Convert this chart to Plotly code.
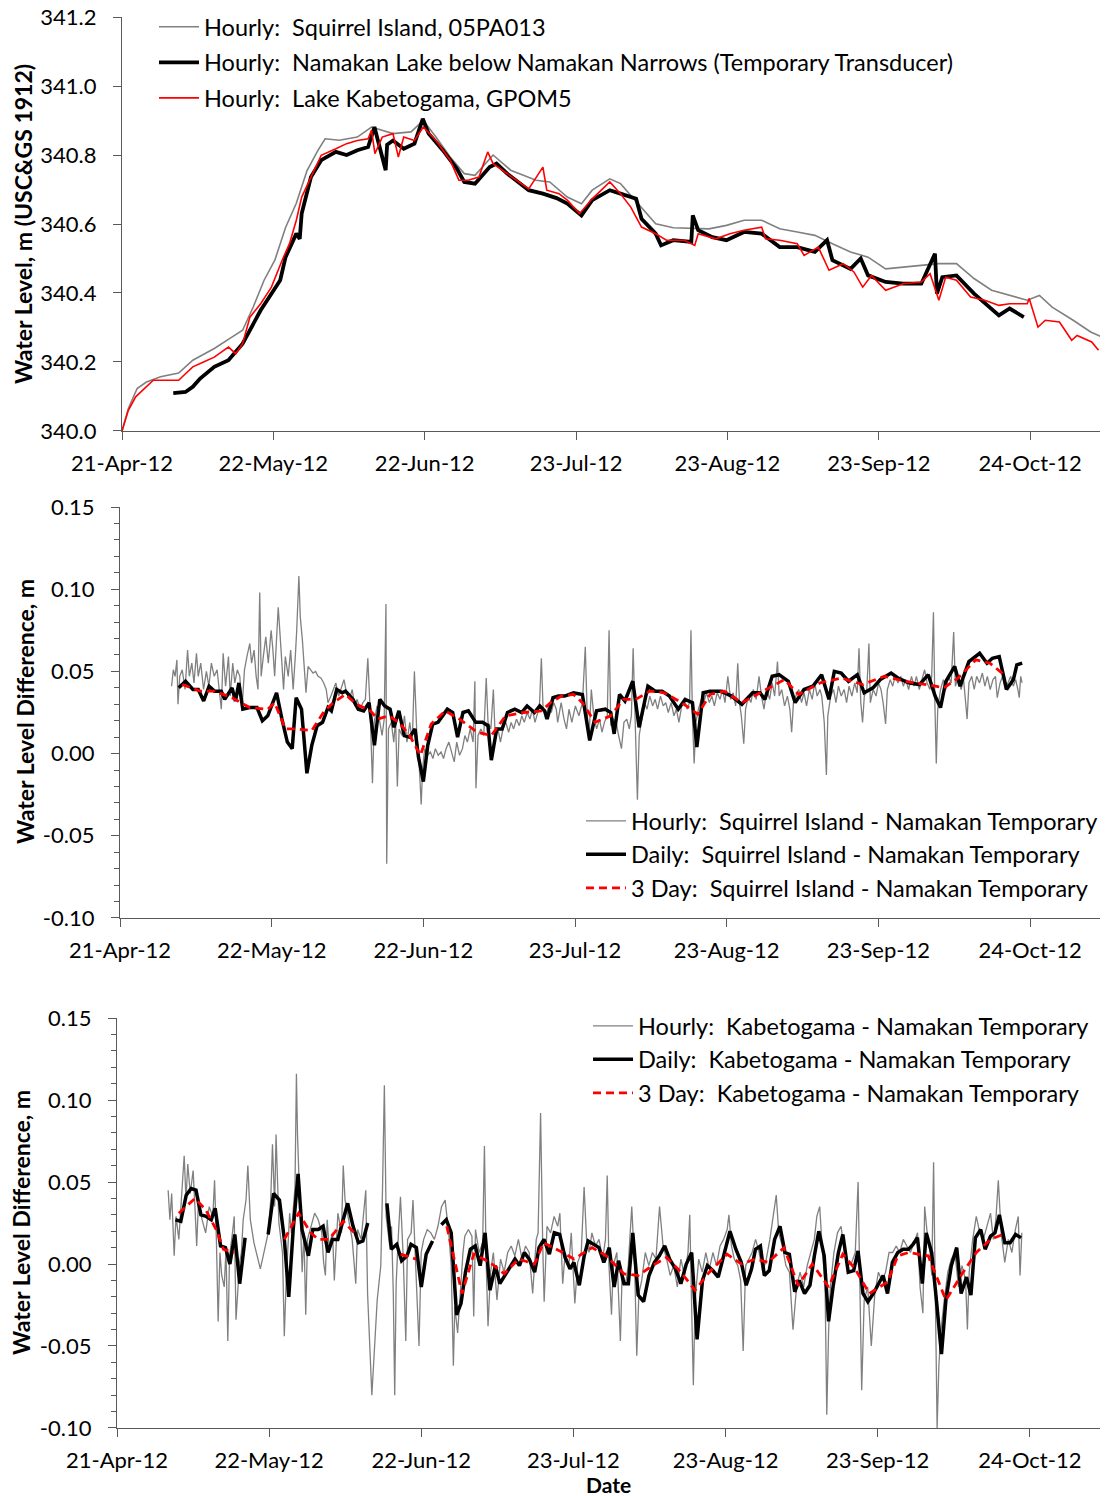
import pandas as pd
import plotly.graph_objects as go

# ---------------- data (day offsets from 21-Apr-2012) ----------------
START = pd.Timestamp("2012-04-21")

tick_dates = ["2012-04-21", "2012-05-22", "2012-06-22", "2012-07-23",
              "2012-08-23", "2012-09-23", "2012-10-24"]
tick_text = ["21-Apr-12", "22-May-12", "22-Jun-12", "23-Jul-12",
             "23-Aug-12", "23-Sep-12", "24-Oct-12"]
level_ticks = [340.0, 340.2, 340.4, 340.6, 340.8, 341.0, 341.2]
level_tick_text = ["340.0", "340.2", "340.4", "340.6", "340.8", "341.0", "341.2"]
diff_ticks = [-0.10, -0.05, 0.00, 0.05, 0.10, 0.15]
diff_tick_text = ["-0.10", "-0.05", "0.00", "0.05", "0.10", "0.15"]

# Panel 1 : water levels (m)
sq_day = [0, 1.3, 3.1, 5, 7.9, 11.6, 14.5, 18.9, 22.5, 24.7,
          26.9, 29.1, 31.3, 33.5, 35.7, 37.9, 40.1, 41.6, 44.5, 48.2,
          51.1, 55.5, 59.2, 61.7, 64.3, 67.2, 70.1, 72.3, 76, 79.6,
          84.8, 87.6, 91.2, 94.1, 96.3, 99.9, 102.1, 105.7, 109.3, 112.9,
          116.6, 120.2, 123.8, 127.4, 131, 134.7, 138.3, 141.9, 145.5, 149.2,
          152.8, 156.4, 160, 163.7, 167.3, 170.9, 174.5, 178.1, 181.8, 185.4,
          187.9, 190.5, 194.8, 198.4, 200.4]
sq_lvl = [340.0, 340.065, 340.123, 340.142, 340.157, 340.168, 340.205, 340.239, 340.272, 340.292,
          340.36, 340.437, 340.495, 340.59, 340.66, 340.755, 340.813, 340.847, 340.843, 340.852,
          340.881, 340.862, 340.867, 340.9, 340.852, 340.794, 340.746, 340.741, 340.8, 340.756,
          340.727, 340.722, 340.678, 340.659, 340.698, 340.731, 340.717, 340.659, 340.601, 340.589,
          340.588, 340.586, 340.596, 340.611, 340.611, 340.586, 340.577, 340.567, 340.543, 340.519,
          340.504, 340.47, 340.475, 340.48, 340.485, 340.485, 340.442, 340.408, 340.393, 340.379,
          340.393, 340.359, 340.321, 340.287, 340.274]

nam_day = [10.5, 13, 14.5, 16, 18.9, 21.8, 24.7, 26.2, 28.4, 30.6,
           32.4, 33.5, 35.7, 36.4, 36.8, 38.7, 40.8, 43.8, 46, 48.2,
           50.4, 51.7, 52.6, 54, 54.3, 55.5, 57.7, 59.9, 61.6, 62.8,
           65.7, 68.6, 70.1, 72.3, 75.3, 76.7, 78.9, 83.3, 86.2, 89,
           91.2, 94.1, 96.3, 99.9, 102.1, 105.3, 106.4, 109.3, 110.4, 112.9,
           116.6, 116.9, 118, 120.9, 123.8, 127.4, 131, 134.7, 138.3, 141.9,
           144.4, 145.5, 149.2, 151.3, 152.8, 156.4, 160, 163.7, 166.5, 166.9,
           168, 170.9, 174.5, 178.1, 179.6, 181.8, 184.7]
nam_lvl = [340.11, 340.113, 340.128, 340.152, 340.186, 340.205, 340.253, 340.292, 340.35, 340.398,
           340.437, 340.504, 340.572, 340.557, 340.63, 340.736, 340.785, 340.809, 340.8, 340.814,
           340.823, 340.881, 340.833, 340.756, 340.83, 340.842, 340.818, 340.833, 340.905, 340.862,
           340.814, 340.76, 340.722, 340.717, 340.765, 340.775, 340.746, 340.698, 340.688, 340.675,
           340.659, 340.625, 340.669, 340.698, 340.688, 340.673, 340.615, 340.572, 340.538, 340.553,
           340.548, 340.625, 340.582, 340.562, 340.553, 340.577, 340.572, 340.533, 340.533, 340.519,
           340.553, 340.495, 340.47, 340.5, 340.451, 340.432, 340.427, 340.427, 340.514, 340.398,
           340.446, 340.451, 340.398, 340.355, 340.335, 340.355, 340.33]

kab_day = [0, 1.3, 2.8, 4.2, 6.4, 8.6, 11.6, 13, 14.5, 16.7,
           18.9, 21.8, 23.3, 24.7, 26.2, 28.4, 30.6, 32.8, 34.3, 35.7,
           36.8, 38.7, 40.8, 43.8, 46, 48.2, 50.4, 51.1, 51.8, 53.3,
           55.5, 56.6, 57.7, 59.9, 61.7, 64.3, 67.2, 69, 70.9, 73.1,
           74.9, 76, 78.9, 83.3, 86.2, 87, 89.5, 91.2, 93.7, 96.3,
           99.9, 102.1, 104.2, 106.4, 109.3, 111.5, 115.1, 117.3, 118, 121.6,
           124.5, 127.4, 131, 131.8, 134.7, 138.3, 139.7, 142.6, 144.8, 147.7,
           149.9, 151.7, 153.5, 156.4, 160, 163.7, 165.5, 167.3, 168.7, 170.9,
           173.8, 176.7, 179.6, 181.8, 185.4, 185.8, 187.6, 189.1, 192, 194.5,
           195.6, 198.6, 200]
kab_lvl = [340.0, 340.06, 340.099, 340.118, 340.147, 340.147, 340.147, 340.166, 340.186, 340.2,
           340.214, 340.243, 340.224, 340.253, 340.33, 340.369, 340.417, 340.495, 340.543, 340.611,
           340.678, 340.736, 340.799, 340.818, 340.833, 340.842, 340.847, 340.872, 340.804, 340.852,
           340.862, 340.794, 340.852, 340.842, 340.881, 340.842, 340.785, 340.727, 340.727, 340.736,
           340.809, 340.775, 340.746, 340.702, 340.765, 340.698, 340.688, 340.669, 340.63, 340.673,
           340.722, 340.688, 340.649, 340.591, 340.572, 340.553, 340.553, 340.538, 340.572, 340.557,
           340.572, 340.582, 340.591, 340.557, 340.553, 340.543, 340.509, 340.533, 340.466, 340.485,
           340.461, 340.417, 340.451, 340.408, 340.427, 340.432, 340.456, 340.379, 340.446, 340.437,
           340.388, 340.379, 340.364, 340.369, 340.369, 340.384, 340.301, 340.321, 340.316, 340.263,
           340.277, 340.258, 340.234]

# Panel 2 : Squirrel Island - Namakan Temporary (m)
sqd_hr_day = [10.54, 10.90, 11.26, 11.63, 11.85, 12.21, 12.72, 13.30, 13.81, 14.17,
              14.68, 15.12, 15.63, 15.99, 16.50, 17.08, 17.66, 18.17, 18.68, 19.26,
              19.84, 20.35, 20.71, 21.08, 21.58, 22.17, 22.53, 23.04, 23.47, 23.98,
              24.49, 24.93, 25.44, 25.94, 26.53, 26.89, 27.40, 27.83, 28.20, 28.56,
              28.85, 29.29, 29.80, 30.31, 30.89, 31.25, 31.61, 31.98, 32.34, 32.70,
              33.07, 33.43, 33.79, 34.38, 34.88, 35.39, 35.83, 36.12, 36.56, 36.85,
              37.28, 37.65, 38.01, 38.44, 38.88, 39.46, 39.97, 40.48, 41.06, 41.64,
              42.15, 42.51, 43.10, 43.60, 44.11, 44.69, 45.28, 45.78, 46.29, 46.88,
              47.46, 47.97, 48.47, 49.06, 49.64, 50.15, 50.65, 51.09, 51.60, 51.96,
              52.54, 53.05, 53.56, 54.00, 54.36, 54.51, 54.87, 55.45, 55.96, 56.32,
              56.69, 57.05, 57.63, 58.14, 58.65, 59.23, 59.74, 60.17, 60.68, 61.12,
              61.56, 61.85, 62.28, 62.86, 63.44, 63.95, 64.46, 65.04, 65.63, 66.13,
              66.64, 67.22, 67.81, 68.31, 68.82, 69.40, 69.99, 70.49, 71.00, 71.58,
              72.17, 72.53, 72.75, 73.18, 73.76, 74.35, 74.85, 75.22, 75.80, 76.31,
              76.67, 77.25, 77.76, 78.27, 78.85, 79.43, 79.94, 80.45, 81.03, 81.61,
              82.12, 82.63, 83.21, 83.79, 84.30, 84.81, 85.39, 85.76, 86.12, 86.48,
              86.99, 87.57, 88.15, 88.66, 89.17, 89.45, 90.17, 90.75, 91.26, 91.77,
              92.35, 93.07, 93.80, 94.52, 95.10, 95.46, 95.83, 96.33, 96.84, 97.42,
              98.00, 98.51, 99.01, 99.59, 99.96, 100.32, 100.83, 101.41, 101.91, 102.49,
              103.00, 103.58, 104.09, 104.52, 104.88, 105.25, 105.75, 106.12, 106.70, 107.20,
              107.71, 108.29, 108.87, 109.38, 109.88, 110.46, 111.04, 111.55, 112.06, 112.64,
              113.22, 113.72, 114.23, 114.81, 115.39, 115.90, 116.41, 116.70, 116.99, 117.35,
              117.71, 118.22, 118.80, 119.30, 119.88, 120.46, 120.97, 121.48, 122.06, 122.64,
              123.14, 123.65, 124.23, 124.81, 125.32, 125.83, 126.26, 126.62, 126.99, 127.49,
              127.86, 128.43, 128.94, 129.45, 130.03, 130.61, 131.12, 131.62, 132.20, 132.78,
              133.29, 133.80, 134.38, 134.74, 135.25, 135.83, 136.41, 136.91, 137.28, 137.64,
              138.14, 138.72, 139.30, 139.81, 140.32, 140.90, 141.48, 141.99, 142.49, 143.07,
              143.43, 143.94, 144.38, 144.67, 145.25, 145.83, 146.33, 146.84, 147.42, 148.00,
              148.51, 149.01, 149.59, 150.17, 150.68, 151.04, 151.41, 151.77, 152.13, 152.64,
              153.07, 153.36, 153.94, 154.52, 155.03, 155.54, 155.97, 156.48, 156.84, 157.42,
              157.93, 158.43, 159.01, 159.59, 160.10, 160.61, 161.19, 161.77, 162.28, 162.78,
              163.36, 163.94, 164.45, 164.96, 165.54, 165.90, 166.26, 166.55, 166.84, 167.13,
              167.71, 168.29, 168.80, 169.30, 169.88, 170.39, 170.75, 171.33, 171.91, 172.42,
              172.78, 173.14, 173.51, 174.09, 174.59, 175.10, 175.68, 176.26, 176.77, 177.28,
              177.86, 178.43, 178.94, 179.30, 179.88, 180.39, 180.90, 181.48, 182.06, 182.57,
              183.07, 183.51, 183.80, 184.09, 184.38]
sqd_hr_val = [0.041, 0.051, 0.047, 0.057, 0.030, 0.047, 0.051, 0.039, 0.063, 0.047,
              0.055, 0.043, 0.061, 0.047, 0.055, 0.039, 0.050, 0.041, 0.055, 0.047,
              0.051, 0.039, 0.027, 0.061, 0.041, 0.059, 0.035, 0.055, 0.043, 0.051,
              0.047, 0.027, 0.051, 0.059, 0.067, 0.055, 0.063, 0.047, 0.039, 0.098,
              0.047, 0.059, 0.071, 0.055, 0.075, 0.063, 0.047, 0.069, 0.089, 0.073,
              0.055, 0.039, 0.059, 0.047, 0.063, 0.039, 0.059, 0.075, 0.108, 0.083,
              0.069, 0.055, 0.037, 0.053, 0.051, 0.049, 0.050, 0.047, 0.046, 0.043,
              0.039, 0.031, 0.035, 0.039, 0.043, 0.035, 0.041, 0.045, 0.037, 0.033,
              0.039, 0.029, 0.033, 0.027, 0.031, 0.033, 0.058, 0.029, -0.018, 0.019,
              0.029, 0.019, 0.011, 0.021, 0.091, -0.067, 0.015, 0.019, 0.007, 0.021,
              -0.020, 0.015, 0.011, 0.023, 0.007, 0.019, 0.007, 0.050, 0.011, -0.005,
              -0.031, -0.009, 0.003, -0.001, 0.001, -0.003, 0.003, -0.001, 0.001, -0.003,
              0.003, 0.007, 0.001, -0.005, 0.007, -0.001, 0.003, 0.011, 0.007, 0.015,
              0.007, 0.044, -0.021, 0.011, 0.015, 0.011, 0.046, 0.019, 0.015, 0.039,
              0.011, 0.015, 0.007, 0.015, 0.019, 0.013, 0.019, 0.015, 0.021, 0.017,
              0.023, 0.019, 0.025, 0.021, 0.027, 0.019, 0.025, 0.031, 0.058, 0.027,
              0.021, 0.029, 0.025, 0.031, 0.027, 0.019, 0.031, 0.021, 0.015, 0.027,
              0.019, 0.029, 0.023, 0.031, 0.065, 0.027, 0.008, 0.039, 0.023, 0.015,
              0.021, 0.013, 0.019, 0.023, 0.075, 0.017, 0.021, 0.019, 0.011, 0.003,
              0.019, 0.021, 0.015, 0.023, 0.064, 0.019, -0.028, 0.011, 0.023, 0.031,
              0.027, 0.035, 0.029, 0.033, 0.027, 0.035, 0.029, 0.031, 0.025, 0.031,
              0.023, 0.027, 0.019, 0.029, 0.033, 0.027, 0.031, 0.075, 0.023, -0.006,
              0.019, 0.027, 0.033, 0.031, 0.037, 0.031, 0.035, 0.029, 0.037, 0.033,
              0.039, 0.031, 0.047, 0.033, 0.037, 0.029, 0.055, 0.031, 0.023, 0.006,
              0.027, 0.035, 0.031, 0.039, 0.033, 0.047, 0.035, 0.027, 0.039, 0.033,
              0.043, 0.035, 0.056, 0.035, 0.039, 0.029, 0.035, 0.027, 0.013, 0.031,
              0.035, 0.039, 0.031, 0.037, 0.029, 0.039, 0.033, 0.043, 0.035, 0.039,
              0.035, 0.019, -0.013, 0.023, 0.035, 0.039, 0.031, 0.041, 0.035, 0.039,
              0.031, 0.041, 0.035, 0.043, 0.037, 0.064, 0.031, 0.019, 0.035, 0.039,
              0.067, 0.031, 0.039, 0.035, 0.043, 0.039, 0.031, 0.018, 0.039, 0.045,
              0.041, 0.047, 0.043, 0.047, 0.041, 0.045, 0.039, 0.047, 0.041, 0.047,
              0.039, 0.045, 0.051, 0.043, 0.039, 0.047, 0.086, 0.031, -0.006, 0.027,
              0.039, 0.045, 0.039, 0.047, 0.043, 0.074, 0.041, 0.047, 0.039, 0.045,
              0.035, 0.021, 0.043, 0.047, 0.039, 0.047, 0.043, 0.049, 0.041, 0.047,
              0.039, 0.045, 0.047, 0.034, 0.043, 0.047, 0.039, 0.043, 0.047, 0.041,
              0.045, 0.039, 0.034, 0.047, 0.043]

sqd_dy_day = [12, 13.4, 14.9, 16, 17.1, 18.2, 19.3, 20.7, 21.4, 22.9,
              23.6, 24.3, 25.1, 26.5, 28, 29.1, 30.2, 32, 33.1, 34.2,
              35.2, 36, 37.1, 38.2, 39.2, 40.3, 41.4, 42.5, 43.2, 44.3,
              45.4, 46.1, 47.6, 48.7, 49.8, 50.9, 52, 53.1, 54.1, 55.2,
              56, 57, 58.1, 59.2, 60.3, 61, 62, 62.9, 63.9, 65,
              66.9, 68, 69, 70.1, 71.2, 72.7, 74.1, 75.2, 75.9, 77,
              78.1, 79.2, 80.7, 82.1, 83.2, 84.7, 85.8, 86.8, 87.3, 88.5,
              89.6, 90.9, 92.7, 94.5, 96, 97.4, 99.2, 100.3, 101, 102.1,
              103.2, 104.8, 106.1, 107.9, 109.4, 110.8, 112.3, 114.1, 115.5, 117,
              117.9, 119.2, 120.6, 122.8, 125, 127.1, 129.3, 130.8, 131.8, 133.3,
              134.7, 136.6, 138, 139.8, 141.6, 143.4, 144.9, 146, 147.4, 148.9,
              150.7, 152.1, 153.9, 155.4, 157.6, 159, 161.2, 163.4, 165.2, 166.6,
              167.7, 168.8, 170.6, 171.7, 173.5, 175.7, 177.2, 178.3, 179.7, 181.2,
              182.6, 183.3, 184.4]
sqd_dy_val = [0.040, 0.044, 0.039, 0.039, 0.032, 0.041, 0.038, 0.038, 0.033, 0.040,
              0.032, 0.043, 0.027, 0.028, 0.028, 0.020, 0.023, 0.037, 0.021, 0.007,
              0.003, 0.034, 0.027, -0.012, 0.005, 0.017, 0.019, 0.028, 0.026, 0.039,
              0.037, 0.038, 0.033, 0.027, 0.026, 0.031, 0.005, 0.033, 0.029, 0.027,
              0.016, 0.026, 0.011, 0.010, 0.015, -0.002, -0.017, 0.005, 0.018, 0.019,
              0.027, 0.025, 0.010, 0.025, 0.026, 0.019, 0.019, 0.017, -0.004, 0.015,
              0.015, 0.025, 0.027, 0.025, 0.029, 0.025, 0.029, 0.026, 0.021, 0.034,
              0.035, 0.035, 0.037, 0.036, 0.008, 0.026, 0.027, 0.025, 0.012, 0.036,
              0.032, 0.044, 0.016, 0.041, 0.038, 0.038, 0.035, 0.027, 0.033, 0.031,
              0.004, 0.037, 0.038, 0.038, 0.035, 0.030, 0.037, 0.037, 0.033, 0.047,
              0.048, 0.044, 0.031, 0.039, 0.041, 0.048, 0.033, 0.050, 0.049, 0.044,
              0.048, 0.037, 0.040, 0.045, 0.049, 0.046, 0.043, 0.042, 0.048, 0.035,
              0.028, 0.044, 0.053, 0.041, 0.056, 0.061, 0.055, 0.058, 0.059, 0.039,
              0.045, 0.054, 0.055]

sqd_3d_day = [12.7, 16.4, 19.3, 22.9, 26.5, 30.2, 31.6, 33.8, 36, 39.2,
              41.8, 43.6, 46.1, 48.3, 51.2, 52.7, 54.9, 57, 59.2, 61.4,
              63.6, 66.5, 69.4, 73, 75.9, 78.8, 82.5, 86.1, 88, 90.2,
              92.7, 94.5, 97.1, 100.3, 102.9, 105.4, 108.3, 111.2, 114.8, 118.1,
              120.6, 123.5, 127.1, 130.8, 135.8, 138.7, 143.1, 147.4, 151.8, 156.2,
              160.5, 164.8, 168.4, 171.3, 174.9, 177.8, 180.7]
sqd_3d_val = [0.042, 0.038, 0.038, 0.034, 0.028, 0.027, 0.031, 0.015, 0.015, 0.014,
              0.026, 0.031, 0.036, 0.030, 0.026, 0.021, 0.023, 0.019, 0.011, -0.001,
              0.018, 0.026, 0.021, 0.013, 0.011, 0.023, 0.025, 0.026, 0.031, 0.035,
              0.036, 0.031, 0.019, 0.023, 0.033, 0.033, 0.038, 0.037, 0.031, 0.024,
              0.036, 0.038, 0.031, 0.037, 0.045, 0.036, 0.043, 0.046, 0.042, 0.047,
              0.044, 0.042, 0.040, 0.046, 0.057, 0.055, 0.048]

# Panel 3 : Kabetogama - Namakan Temporary (m)
kbd_hr_day = [10.42, 10.78, 11.14, 11.65, 12.02, 12.60, 13.11, 13.69, 14.06, 14.42,
              14.93, 15.51, 15.88, 16.24, 16.61, 17.33, 18.06, 18.79, 19.52, 19.88,
              20.25, 20.61, 20.98, 21.34, 21.85, 22.21, 22.58, 22.94, 23.53, 23.89,
              24.25, 24.62, 24.98, 25.35, 25.71, 26.29, 26.66, 27.17, 27.90, 29.21,
              30.08, 30.81, 31.32, 31.68, 32.12, 32.41, 32.99, 33.72, 34.09, 34.45,
              35.18, 35.54, 36.27, 36.56, 36.78, 37.22, 37.73, 38.09, 38.46, 38.82,
              39.55, 40.28, 41.00, 41.73, 42.10, 42.46, 42.83, 43.19, 43.92, 44.28,
              45.01, 45.74, 46.10, 46.47, 47.20, 47.92, 48.65, 49.02, 49.75, 50.33,
              50.69, 51.06, 51.42, 51.93, 53.02, 53.75, 54.11, 54.48, 54.84, 55.57,
              55.94, 56.30, 56.59, 56.88, 57.39, 57.76, 58.34, 58.85, 59.21, 59.94,
              60.31, 60.67, 61.03, 61.54, 61.98, 62.49, 63.22, 63.95, 64.67, 65.40,
              66.13, 66.86, 67.59, 68.10, 68.54, 68.83, 69.41, 69.99, 70.50, 70.87,
              71.60, 72.32, 72.69, 73.05, 73.78, 74.51, 74.87, 75.24, 75.60, 76.11,
              76.69, 77.42, 78.15, 78.88, 79.61, 80.33, 81.06, 81.79, 82.52, 83.25,
              83.98, 84.70, 85.43, 85.80, 86.31, 86.75, 87.04, 87.62, 88.35, 89.07,
              89.80, 90.24, 90.82, 91.33, 92.06, 92.56, 93.29, 93.87, 94.60, 95.18,
              95.68, 96.19, 96.77, 97.50, 98.22, 98.95, 99.53, 99.89, 100.25, 100.76,
              101.12, 101.85, 102.57, 102.93, 103.66, 104.17, 104.89, 105.47, 105.91, 106.34,
              106.92, 107.65, 108.37, 109.10, 109.82, 110.55, 111.27, 112.00, 112.72, 113.45,
              114.17, 114.90, 115.63, 116.35, 116.71, 117.22, 117.44, 117.80, 118.53, 119.25,
              119.98, 120.70, 121.43, 122.15, 122.88, 123.60, 124.33, 124.69, 125.20, 125.78,
              126.50, 127.08, 127.59, 128.10, 128.68, 129.40, 130.13, 130.85, 131.58, 132.30,
              133.03, 133.75, 134.33, 134.84, 135.57, 136.29, 137.02, 137.74, 138.47, 139.19,
              139.92, 140.64, 141.37, 142.09, 142.60, 143.18, 143.76, 144.27, 144.63, 144.99,
              145.36, 146.08, 146.81, 147.53, 148.26, 148.98, 149.71, 150.43, 151.01, 151.30,
              151.74, 152.25, 152.97, 153.70, 154.42, 155.15, 155.87, 156.60, 157.32, 158.05,
              158.77, 159.50, 160.22, 160.95, 161.67, 162.40, 163.12, 163.63, 164.21, 164.57,
              165.08, 165.66, 166.02, 166.39, 166.75, 167.11, 167.47, 167.84, 168.56, 169.29,
              170.01, 170.74, 171.46, 172.19, 172.91, 173.28, 173.64, 174.36, 175.09, 175.81,
              176.54, 177.26, 177.99, 178.57, 179.08, 179.58, 180.16, 180.89, 181.61, 182.34,
              183.06, 183.64, 184.01, 184.37]
kbd_hr_val = [0.045, 0.027, 0.043, 0.005, 0.029, 0.015, 0.039, 0.066, 0.039, 0.061,
              0.043, 0.057, 0.035, 0.011, 0.039, 0.027, 0.019, 0.035, 0.029, 0.051,
              0.015, -0.035, 0.007, -0.007, -0.014, 0.009, -0.047, 0.005, 0.019, 0.029,
              -0.034, -0.012, 0.001, 0.007, 0.027, 0.039, 0.060, 0.027, 0.013, -0.003,
              0.009, 0.019, 0.039, 0.073, 0.035, 0.079, 0.025, 0.007, -0.044, -0.012,
              0.031, 0.019, 0.047, 0.116, 0.079, 0.035, -0.005, 0.019, -0.031, 0.015,
              0.023, 0.031, 0.027, 0.019, 0.001, -0.007, 0.027, 0.011, 0.019, -0.010,
              0.031, 0.019, 0.060, 0.039, 0.027, 0.015, -0.012, 0.021, 0.015, 0.035,
              0.045, -0.018, -0.042, -0.080, -0.022, -0.001, 0.047, 0.109, 0.029, 0.011,
              0.023, -0.018, -0.080, -0.012, 0.021, 0.041, 0.003, -0.047, 0.015, 0.019,
              0.039, 0.015, -0.014, -0.050, 0.007, 0.015, 0.021, 0.019, 0.015, 0.023,
              0.035, 0.039, 0.019, -0.001, -0.062, -0.026, -0.042, -0.014, 0.007, 0.017,
              0.021, 0.017, -0.032, 0.021, 0.007, 0.013, 0.072, -0.001, -0.038, -0.005,
              0.007, -0.022, 0.003, -0.005, 0.007, 0.011, 0.005, 0.015, 0.003, 0.011,
              0.007, -0.018, 0.015, 0.019, 0.092, 0.011, -0.023, 0.023, 0.019, 0.029,
              0.023, 0.031, -0.012, 0.007, -0.001, 0.019, -0.024, 0.001, 0.007, 0.047,
              0.015, 0.007, 0.019, 0.011, 0.015, 0.003, 0.015, 0.054, -0.001, -0.031,
              -0.001, 0.007, -0.047, -0.005, -0.012, -0.001, 0.035, -0.001, -0.056, -0.018,
              -0.010, 0.007, -0.001, 0.007, 0.003, 0.035, 0.011, 0.003, -0.007, -0.001,
              -0.014, 0.003, -0.007, 0.007, 0.030, -0.044, -0.074, -0.022, 0.003, -0.005,
              0.007, -0.003, 0.007, -0.001, 0.011, 0.015, 0.021, 0.030, 0.011, 0.003,
              -0.001, -0.010, -0.053, -0.001, 0.003, 0.007, 0.015, 0.007, -0.005, 0.003,
              0.015, 0.031, 0.042, 0.019, 0.011, -0.001, -0.005, -0.040, -0.014, -0.005,
              -0.014, -0.001, 0.007, 0.015, 0.029, 0.035, 0.007, -0.012, -0.092, -0.042,
              -0.014, 0.007, 0.019, 0.023, 0.007, -0.001, 0.001, 0.007, 0.050, 0.005,
              -0.077, -0.022, -0.014, -0.050, -0.018, -0.005, -0.010, -0.005, 0.007, 0.007,
              0.011, 0.007, 0.015, 0.011, 0.007, 0.013, 0.019, -0.014, -0.030, 0.035,
              0.019, 0.007, -0.007, 0.062, -0.022, -0.100, -0.062, -0.042, -0.022, -0.005,
              0.003, 0.007, -0.014, -0.001, -0.010, -0.040, -0.005, 0.015, 0.029, 0.019,
              0.015, 0.023, 0.031, 0.015, 0.027, 0.051, 0.019, 0.001, 0.015, 0.007,
              0.021, 0.029, -0.007, 0.019]

# daily (None = no daily value / gap)
kbd_dy_day = [11.9, 13, 14.1, 15.1, 16.1, 17.1, 18.2, 19.2, 20, 21.1,
              22.1, 23, 24, 25, 26.1, 28.5,
              30.8, 31.9, 33.1, 34.1, 35, 35.9, 36.9, 37.7, 39, 39.9,
              41, 42, 43, 43.9, 45, 46, 47, 48.1, 49.2, 50.1,
              51.1, 53,
              55, 55.9, 57, 58, 59.1, 59.9, 61, 62, 63, 64.3, 65.2,
              66.1, 67.1, 68.1, 69.2, 70.1, 71, 72, 73, 74, 75,
              76, 77.1, 78, 79, 80.1, 81.1, 82, 83, 84, 85.1,
              86, 87, 88.1, 89.1, 90.2, 91.3, 92.3, 93.1, 94.2, 95.2,
              96, 97.1, 98.2, 99.2, 100.3, 101.3, 102.2, 103.3, 104.2, 105.1,
              106.2, 107.3, 108.4, 109.5, 110.5, 111.6, 112.6, 113.8, 114.9, 116,
              117.1, 118.2, 119.3, 120.3, 121.4, 122.5, 123.6, 124.9, 126.1, 127.2,
              128.2, 129.3, 130.1, 131.1, 131.9, 132.9, 134, 135.1, 136.1, 137,
              138.1, 139, 140.1, 141.2, 142.1, 143, 144.1, 145, 145.9, 147,
              147.9, 149, 150.1, 151, 152, 153, 154.1, 155.1, 156.1, 157,
              158, 159.1, 160.2, 161.3, 162.2, 163.1, 164.1, 164.9, 166, 166.9,
              168, 168.9, 170, 171.1, 172, 173.1, 174, 174.9, 176, 176.9,
              178, 178.9, 179.8, 180.9, 182, 183.1, 184.2]
kbd_dy_val = [0.027, 0.026, 0.042, 0.046, 0.045, 0.030, 0.029, 0.027, 0.034, 0.011,
              0.010, 0.000, 0.018, -0.012, 0.016, None,
              0.018, 0.043, 0.039, 0.015, -0.020, 0.021, 0.055, 0.021, 0.005, 0.021,
              0.021, 0.023, 0.007, 0.015, 0.015, 0.027, 0.037, 0.023, 0.013, 0.014,
              0.025, None,
              0.037, 0.009, 0.012, 0.002, 0.005, 0.012, 0.010, -0.014, 0.006, 0.014, None,
              0.024, 0.027, 0.019, -0.031, -0.024, -0.005, 0.009, 0.011, -0.001, 0.019,
              -0.016, -0.001, -0.012, -0.007, -0.001, 0.003, -0.001, 0.007, 0.003, -0.005,
              0.010, 0.015, 0.006, 0.019, 0.018, 0.004, -0.003, 0.001, -0.013, 0.005,
              0.014, 0.012, 0.010, 0.001, 0.010, -0.014, 0.002, -0.012, -0.012, 0.019,
              -0.019, -0.023, -0.007, 0.001, 0.005, 0.011, 0.003, -0.003, -0.012, 0.000,
              0.007, -0.046, -0.010, -0.001, -0.004, -0.008, 0.005, 0.020, 0.009, 0.001,
              -0.013, -0.003, 0.009, 0.011, -0.007, -0.004, 0.015, 0.023, 0.007, 0.006,
              -0.017, -0.010, -0.018, -0.013, 0.005, 0.020, 0.005, -0.035, -0.014, 0.007,
              0.018, -0.005, -0.004, 0.008, -0.018, -0.023, -0.018, -0.012, -0.007, -0.018,
              0.001, 0.007, 0.009, 0.009, 0.012, 0.016, -0.012, 0.019, 0.007, -0.020,
              -0.055, -0.022, -0.001, 0.010, -0.018, -0.008, -0.019, 0.016, 0.021, 0.009,
              0.017, 0.019, 0.030, 0.013, 0.013, 0.018, 0.016]

kbd_3d_day = [12.6, 15.9, 18.1, 20.2, 21.7, 23.9, 28.5,
              34.1, 37, 39.5, 41, 43.2, 46.1, 49, 53,
              57.8, 61, 65.2,
              67.2, 70.3, 72.7, 76, 78.9, 81.8, 85.1, 86.9, 90.2, 93.1,
              96.8, 99.7, 103.3, 106.2, 109.1, 112, 114.9, 117.8, 120.7, 124.3,
              127.2, 130.1, 132.7, 135.9, 138.8, 141.7, 145, 147.9, 150.4, 153.3,
              157, 159.1, 161.3, 165.3, 168.9, 172.2, 175.1, 178, 180.5]
kbd_3d_val = [0.031, 0.040, 0.033, 0.021, 0.009, 0.007, None,
              0.015, 0.031, 0.019, 0.015, 0.015, 0.026, 0.017, None,
              0.006, 0.003, None,
              0.023, -0.018, 0.006, 0.001, -0.006, 0.003, 0.000, 0.013, 0.008, 0.003,
              0.010, 0.005, -0.006, -0.007, -0.001, 0.004, -0.005, -0.016, -0.005, 0.006,
              0.000, 0.003, 0.001, 0.010, -0.013, 0.000, -0.014, 0.006, -0.003, -0.018,
              -0.011, 0.005, 0.007, 0.005, -0.022, -0.006, 0.007, 0.015, 0.018]


def to_dates(days):
    return [START + pd.Timedelta(days=d) for d in days]


# ---------------- figure ----------------
W, H = 1105, 1496
FONT = "Lato"
AXIS_COL = "#595959"
GRAY = "#808080"
X_END = START + pd.Timedelta(days=200.3)


def px(xp):
    return xp / W


def py(yp):
    return 1 - yp / H


fig = go.Figure()

# panel 1
fig.add_trace(go.Scatter(x=to_dates(sq_day), y=sq_lvl, mode="lines",
                         line=dict(color=GRAY, width=1.6),
                         name="Hourly:\u00a0 Squirrel Island, 05PA013",
                         legend="legend", legendgroup="a1", xaxis="x", yaxis="y"))
fig.add_trace(go.Scatter(x=to_dates(nam_day), y=nam_lvl, mode="lines",
                         line=dict(color="black", width=3.8),
                         name="Hourly:\u00a0 Namakan Lake below Namakan Narrows (Temporary Transducer)",
                         legend="legend", legendgroup="a2", xaxis="x", yaxis="y"))
fig.add_trace(go.Scatter(x=to_dates(kab_day), y=kab_lvl, mode="lines",
                         line=dict(color="#FF0000", width=1.6),
                         name="Hourly:\u00a0 Lake Kabetogama, GPOM5",
                         legend="legend", legendgroup="a3", xaxis="x", yaxis="y"))

# panel 2
fig.add_trace(go.Scatter(x=to_dates(sqd_hr_day), y=sqd_hr_val, mode="lines",
                         line=dict(color=GRAY, width=1.3),
                         name="Hourly:\u00a0 Squirrel Island - Namakan Temporary",
                         legend="legend2", legendgroup="b1", xaxis="x2", yaxis="y2"))
fig.add_trace(go.Scatter(x=to_dates(sqd_dy_day), y=sqd_dy_val, mode="lines",
                         line=dict(color="black", width=3.5),
                         name="Daily:\u00a0 Squirrel Island - Namakan Temporary",
                         legend="legend2", legendgroup="b2", xaxis="x2", yaxis="y2"))
fig.add_trace(go.Scatter(x=to_dates(sqd_3d_day), y=sqd_3d_val, mode="lines",
                         line=dict(color="#FF0000", width=2.8, dash="8px,5px"),
                         name="3 Day:\u00a0 Squirrel Island - Namakan Temporary",
                         legend="legend2", legendgroup="b3", xaxis="x2", yaxis="y2"))

# panel 3
fig.add_trace(go.Scatter(x=to_dates(kbd_hr_day), y=kbd_hr_val, mode="lines",
                         line=dict(color=GRAY, width=1.3),
                         name="Hourly:\u00a0 Kabetogama - Namakan Temporary",
                         legend="legend3", legendgroup="c1", xaxis="x3", yaxis="y3"))
fig.add_trace(go.Scatter(x=to_dates(kbd_dy_day), y=kbd_dy_val, mode="lines",
                         line=dict(color="black", width=3.5), connectgaps=False,
                         name="Daily:\u00a0 Kabetogama - Namakan Temporary",
                         legend="legend3", legendgroup="c2", xaxis="x3", yaxis="y3"))
fig.add_trace(go.Scatter(x=to_dates(kbd_3d_day), y=kbd_3d_val, mode="lines",
                         line=dict(color="#FF0000", width=2.8, dash="8px,5px"), connectgaps=False,
                         name="3 Day:\u00a0 Kabetogama - Namakan Temporary",
                         legend="legend3", legendgroup="c3", xaxis="x3", yaxis="y3"))

tickfont = dict(family=FONT, size=22, color="black")


def xaxis(x0, anchor):
    return dict(domain=[px(x0), px(1100)], anchor=anchor, type="date",
                range=[START, X_END], tickmode="array", tickvals=tick_dates,
                ticktext=tick_text, ticks="outside", ticklen=8, tickwidth=1.2,
                tickcolor=AXIS_COL, showline=True, linecolor=AXIS_COL, linewidth=1.2,
                showgrid=False, zeroline=False, tickfont=tickfont, automargin=False,
                ticklabelstandoff=4, ticklabeloverflow="allow")


def ydiff(y0, y1, anchor):
    return dict(domain=[py(y1), py(y0)], anchor=anchor, range=[-0.10001, 0.15001],
                tickmode="array", tickvals=diff_ticks, ticktext=diff_tick_text,
                ticks="outside", ticklen=8, tickwidth=1.2, tickcolor=AXIS_COL,
                minor=dict(dtick=0.01, tick0=0, ticks="outside", ticklen=5,
                           tickwidth=1, tickcolor=AXIS_COL, showgrid=False),
                showline=True, linecolor=AXIS_COL, linewidth=1.2,
                showgrid=False, zeroline=False, tickfont=tickfont, automargin=False,
                ticklabelstandoff=12, ticklabeloverflow="allow")


legfont = dict(family=FONT, size=23.5, color="black")
title_font = dict(family=FONT, size=23, color="black")

fig.update_layout(
    width=W, height=H, margin=dict(l=0, r=0, t=0, b=0, autoexpand=False),
    paper_bgcolor="white", plot_bgcolor="white",
    font=dict(family=FONT, color="black"),
    xaxis=xaxis(122, "y"),
    yaxis=dict(domain=[py(431), py(17)], anchor="x", range=[339.9999, 341.2001],
               tickmode="array", tickvals=level_ticks, ticktext=level_tick_text,
               ticks="outside", ticklen=8, tickwidth=1.2, tickcolor=AXIS_COL,
               showline=True, linecolor=AXIS_COL, linewidth=1.2,
               showgrid=False, zeroline=False, tickfont=tickfont, automargin=False,
               ticklabelstandoff=12, ticklabeloverflow="allow"),
    xaxis2=xaxis(120, "y2"),
    yaxis2=ydiff(507, 918, "x2"),
    xaxis3=xaxis(117, "y3"),
    yaxis3=ydiff(1018, 1428, "x3"),
    legend=dict(x=px(154), y=py(5), xanchor="left", yanchor="top",
                bgcolor="rgba(0,0,0,0)", font=legfont, traceorder="grouped",
                tracegroupgap=2, itemwidth=40),
    legend2=dict(x=px(581), y=py(799), xanchor="left", yanchor="top",
                 bgcolor="rgba(0,0,0,0)", font=legfont, traceorder="grouped",
                 tracegroupgap=0, itemwidth=40),
    legend3=dict(x=px(588), y=py(1004), xanchor="left", yanchor="top",
                 bgcolor="rgba(0,0,0,0)", font=legfont, traceorder="grouped",
                 tracegroupgap=0, itemwidth=40),
    showlegend=True,
    annotations=[
        dict(text="<b>Water Level, m (USC&GS 1912)</b>", x=px(23), y=py(224),
             xref="paper", yref="paper", xanchor="center", yanchor="middle",
             textangle=-90, showarrow=False, font=title_font),
        dict(text="<b>Water Level Difference, m</b>", x=px(25), y=py(712),
             xref="paper", yref="paper", xanchor="center", yanchor="middle",
             textangle=-90, showarrow=False, font=title_font),
        dict(text="<b>Water Level Difference, m</b>", x=px(21), y=py(1223),
             xref="paper", yref="paper", xanchor="center", yanchor="middle",
             textangle=-90, showarrow=False, font=title_font),
        dict(text="<b>Date</b>", x=px(608), y=py(1484), xref="paper", yref="paper",
             xanchor="center", yanchor="middle", showarrow=False,
             font=dict(family=FONT, size=21, color="black")),
    ],
)

fig.write_html("out.html",
               config={"displayModeBar": False},
               post_script="document.body.style.margin='0';document.body.style.padding='0';")
